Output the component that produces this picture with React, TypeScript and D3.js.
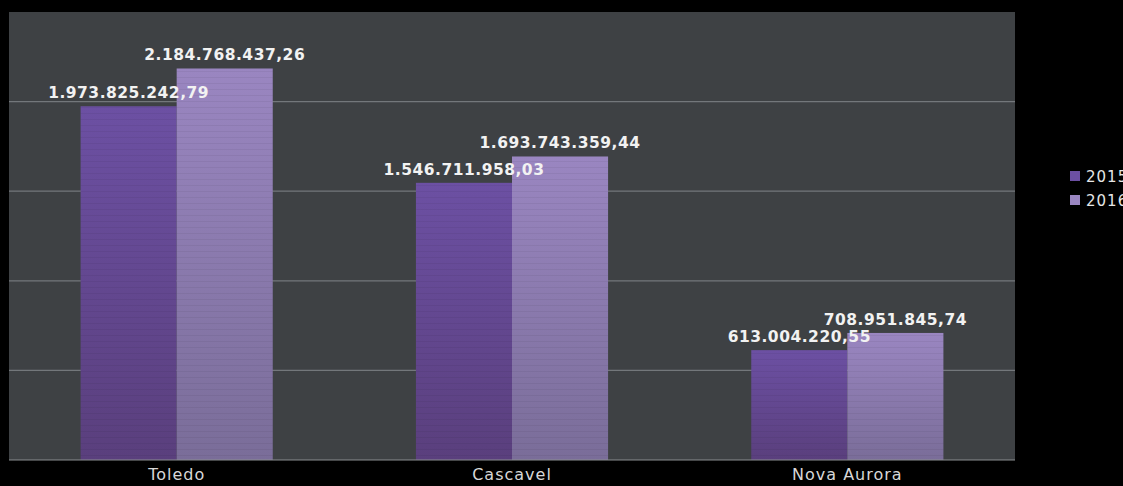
import React from "react";
import * as d3 from "d3";

const categories = ["Toledo", "Cascavel", "Nova Aurora"];
const seriesNames = ["2015", "2016"];
const values2015 = [1973825242.79, 1546711958.03, 613004220.55];
const values2016 = [2184768437.26, 1693743359.44, 708951845.74];
const yTicks = [0, 500000000, 1000000000, 1500000000, 2000000000, 2500000000];

const W = 1123;
const H = 486;
const plot = { left: 9, right: 1015, top: 12, bottom: 460 };

function fmt(v: number) {
  const [i, d] = v.toFixed(2).split(".");
  return i.replace(/\B(?=(\d{3})+(?!\d))/g, ".") + "," + d;
}

export default function App() {
  const x0 = d3.scaleBand<string>().domain(categories).range([plot.left, plot.right]).paddingInner(0.427).paddingOuter(0.2135);
  const x1 = d3.scaleBand<string>().domain(seriesNames).range([0, x0.bandwidth()]).padding(0);
  const y = d3.scaleLinear().domain([0, 2500000000]).range([plot.bottom, plot.top]);
  const series = [values2015, values2016];
  const grads = ["g2015", "g2016"];
  return (
    <svg width={W} height={H} style={{ position: "fixed", left: 0, top: 0, background: "#000" }}>
      <defs>
        <linearGradient id="g2015" x1="0" y1="0" x2="0" y2="1">
          <stop offset="0" stopColor="#6c50a3" />
          <stop offset="1" stopColor="#5a3f7d" />
        </linearGradient>
        <linearGradient id="g2016" x1="0" y1="0" x2="0" y2="1">
          <stop offset="0" stopColor="#9a86c1" />
          <stop offset="1" stopColor="#7a6d99" />
        </linearGradient>
        <pattern id="stripes" width="4" height="6" patternUnits="userSpaceOnUse">
          <rect width="4" height="1" y="5" fill="#000" opacity="0.05" />
        </pattern>
      </defs>
      <rect x={plot.left} y={plot.top} width={plot.right - plot.left} height={plot.bottom - plot.top} fill="#3e4144" />
      {yTicks.slice(1, -1).map((t) => (
        <line key={t} x1={plot.left} x2={plot.right} y1={y(t)} y2={y(t)} stroke="#73777b" strokeWidth={1.2} />
      ))}
      {categories.map((c, ci) => (
        <g key={c}>
          {seriesNames.map((s, si) => {
            const v = series[si][ci];
            const bx = (x0(c) as number) + (x1(s) as number);
            return (
              <g key={s}>
                <rect x={bx} y={y(v)} width={x1.bandwidth()} height={plot.bottom - y(v)} fill={`url(#${grads[si]})`} />
                <rect x={bx} y={y(v)} width={x1.bandwidth()} height={plot.bottom - y(v)} fill="url(#stripes)" />
              </g>
            );
          })}
        </g>
      ))}
      {categories.map((c, ci) => (
        <g key={c + "l"}>
          {seriesNames.map((s, si) => {
            const v = series[si][ci];
            const cx = (x0(c) as number) + (x1(s) as number) + x1.bandwidth() / 2;
            return (
              <text key={s} x={cx} y={y(v) - 8} textAnchor="middle" fill="#f2f2f2" fontFamily="DejaVu Sans" fontWeight="bold" fontSize={15.5} letterSpacing={0.5}>
                {fmt(v)}
              </text>
            );
          })}
        </g>
      ))}
      <line x1={plot.left} x2={plot.right} y1={plot.bottom} y2={plot.bottom} stroke="#8a8d90" strokeWidth={1.2} />
      {categories.map((c) => (
        <text key={c + "a"} x={(x0(c) as number) + x0.bandwidth() / 2} y={480} textAnchor="middle" fill="#d8d8d8" fontFamily="DejaVu Sans" fontSize={16} letterSpacing={1}>
          {c}
        </text>
      ))}
      {seriesNames.map((s, si) => (
        <g key={s + "lg"} transform={`translate(1070, ${171 + si * 24})`}>
          <rect width={10} height={10} fill={si === 0 ? "#6c50a3" : "#9a86c1"} />
          <text x={16} y={10.5} fill="#e6e6e6" fontFamily="DejaVu Sans" fontSize={15} letterSpacing={1}>
            {s}
          </text>
        </g>
      ))}
    </svg>
  );
}
